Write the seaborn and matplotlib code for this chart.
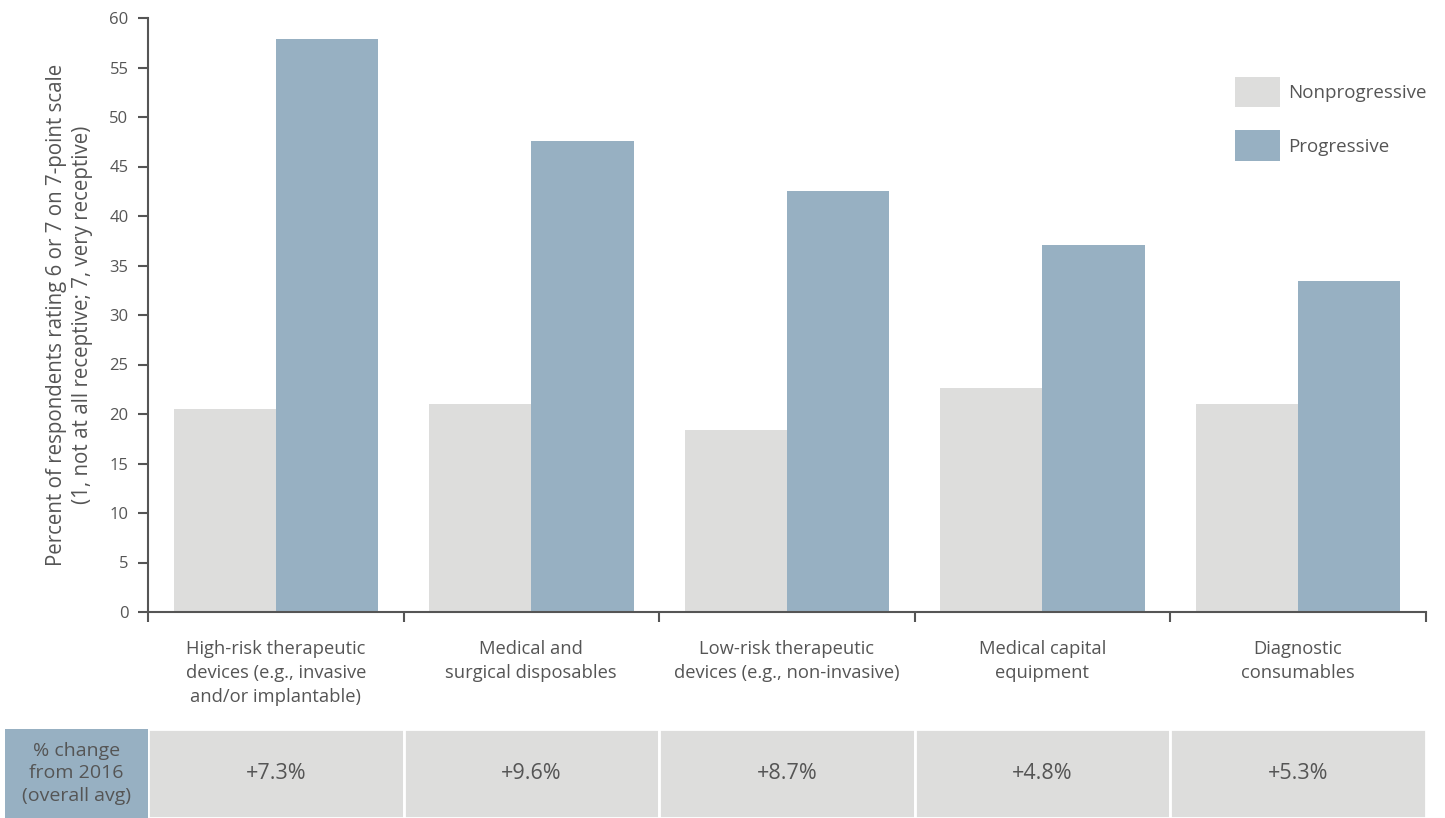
import matplotlib
matplotlib.use("Agg")
import matplotlib.pyplot as plt
import seaborn as sns
import pandas as pd
from matplotlib.patches import Rectangle

categories = [
    "High-risk therapeutic\ndevices (e.g., invasive\nand/or implantable)",
    "Medical and\nsurgical disposables",
    "Low-risk therapeutic\ndevices (e.g., non-invasive)",
    "Medical capital\nequipment",
    "Diagnostic\nconsumables",
]
nonprogressive = [20.5, 21.0, 18.4, 22.6, 21.0]
progressive = [57.9, 47.6, 42.5, 37.1, 33.4]
pct_change = ["+7.3%", "+9.6%", "+8.7%", "+4.8%", "+5.3%"]
series_names = ["Nonprogressive", "Progressive"]
y_ticks = [0, 5, 10, 15, 20, 25, 30, 35, 40, 45, 50, 55, 60]

GRAY = "#DDDDDC"
BLUE = "#97B0C2"
TXT = "#555555"
AX = "#555555"

sns.set_theme(style="white")
plt.rcParams["font.family"] = ["Open Sans", "DejaVu Sans"]

df = pd.DataFrame({
    "cat": categories * 2,
    "series": [series_names[0]] * 5 + [series_names[1]] * 5,
    "val": nonprogressive + progressive,
})

W, H = 1445, 818
fig = plt.figure(figsize=(W / 100, H / 100), dpi=100)
x0, x1 = 148, 1425.7
ax = fig.add_axes([x0 / W, (H - 612) / H, (x1 - x0) / W, (612 - 18) / H])

sns.barplot(data=df, x="cat", y="val", hue="series", order=categories,
            hue_order=series_names, palette=[GRAY, BLUE], width=0.8,
            gap=0, saturation=1, ax=ax, legend=True, errorbar=None, linewidth=0)

ax.set_xlim(-0.5, 4.5)
ax.set_ylim(0, 60)
ax.set_yticks(y_ticks)
ax.set_yticklabels([str(v) for v in y_ticks], fontsize=12, color=TXT)
ax.tick_params(axis="y", direction="out", length=7, width=1.5, color=AX, pad=7, left=True)

ax.set_xticks([i - 0.5 for i in range(6)])
ax.set_xticklabels([])
ax.tick_params(axis="x", which="major", direction="out", length=7, width=1.5, color=AX, bottom=True)
ax.set_xticks(range(5), minor=True)
ax.set_xticklabels(categories, minor=True, fontsize=13.2, color=TXT, linespacing=1.45)
ax.tick_params(axis="x", which="minor", length=0, pad=20)
ax.set_xlabel("")

ax.set_ylabel("Percent of respondents rating 6 or 7 on 7-point scale\n(1, not at all receptive; 7, very receptive)",
              fontsize=14.8, color=TXT, linespacing=1.3, labelpad=12)

for s in ["top", "right"]:
    ax.spines[s].set_visible(False)
for s in ["left", "bottom"]:
    ax.spines[s].set_color(AX)
    ax.spines[s].set_linewidth(1.5)

leg = ax.legend(loc="upper left", bbox_to_anchor=((1227 - x0) / (x1 - x0), (612 - 69) / (612 - 18)),
                frameon=False, fontsize=13.5, handlelength=2.45, handleheight=2.15,
                labelspacing=1.23, handletextpad=0.4, borderaxespad=0)
for t in leg.get_texts():
    t.set_color(TXT)

# table row
tax = fig.add_axes([x0 / W, 0, (x1 - x0) / W, (818 - 729) / H])
tax.bar(range(5), [1] * 5, width=1.0, color=GRAY, edgecolor="white", linewidth=2)
tax.set_xlim(-0.5, 4.5)
tax.set_ylim(0, 1)
tax.axis("off")
for i, t in enumerate(pct_change):
    tax.text(i, 0.5, t, ha="center", va="center", fontsize=15.5, color=TXT)
blue_w = (x0 - 5) / (x1 - x0)
tax.add_patch(Rectangle((-blue_w, 0), blue_w, 1, transform=tax.transAxes,
                        facecolor=BLUE, edgecolor="none", clip_on=False))
tax.text(-blue_w / 2, 0.5, "% change\nfrom 2016\n(overall avg)", transform=tax.transAxes,
         ha="center", va="center", fontsize=14, color=TXT, linespacing=1.3)

fig.savefig("out.png", dpi=100)
